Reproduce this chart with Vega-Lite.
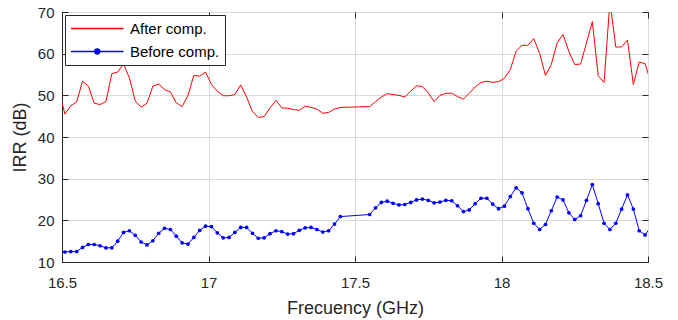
{
  "$schema": "https://vega.github.io/schema/vega-lite/v6.json",
  "width": 586,
  "height": 250,
  "autosize": {"type": "none"},
  "padding": {"left": 62, "top": 12, "right": 30, "bottom": 58},
  "background": "white",
  "config": {
    "font": "Liberation Sans",
    "view": {"stroke": "#262626", "strokeWidth": 1},
    "axis": {
      "domainColor": "#262626",
      "tickColor": "#262626",
      "labelColor": "#262626",
      "titleColor": "#262626",
      "gridColor": "#dadada",
      "gridWidth": 1,
      "labelFontSize": 15,
      "titleFontSize": 18,
      "titleFontWeight": "normal",
      "tickSize": -6,
      "labelPadding": 14,
      "labelFlush": false
    }
  },
  "data": {
    "values": [
      {"f": 16.49, "irr": 51.0, "s": "After comp."},
      {"f": 16.51, "irr": 45.5, "s": "After comp."},
      {"f": 16.53, "irr": 47.5, "s": "After comp."},
      {"f": 16.55, "irr": 48.4, "s": "After comp."},
      {"f": 16.57, "irr": 53.4, "s": "After comp."},
      {"f": 16.59, "irr": 52.2, "s": "After comp."},
      {"f": 16.61, "irr": 48.1, "s": "After comp."},
      {"f": 16.63, "irr": 47.8, "s": "After comp."},
      {"f": 16.65, "irr": 48.5, "s": "After comp."},
      {"f": 16.67, "irr": 55.2, "s": "After comp."},
      {"f": 16.69, "irr": 55.6, "s": "After comp."},
      {"f": 16.71, "irr": 57.5, "s": "After comp."},
      {"f": 16.73, "irr": 54.2, "s": "After comp."},
      {"f": 16.75, "irr": 48.6, "s": "After comp."},
      {"f": 16.77, "irr": 47.2, "s": "After comp."},
      {"f": 16.79, "irr": 48.1, "s": "After comp."},
      {"f": 16.81, "irr": 52.2, "s": "After comp."},
      {"f": 16.83, "irr": 52.7, "s": "After comp."},
      {"f": 16.85, "irr": 51.4, "s": "After comp."},
      {"f": 16.87, "irr": 50.8, "s": "After comp."},
      {"f": 16.89, "irr": 48.2, "s": "After comp."},
      {"f": 16.91, "irr": 47.3, "s": "After comp."},
      {"f": 16.93, "irr": 50.0, "s": "After comp."},
      {"f": 16.95, "irr": 54.8, "s": "After comp."},
      {"f": 16.97, "irr": 54.6, "s": "After comp."},
      {"f": 16.99, "irr": 55.6, "s": "After comp."},
      {"f": 17.01, "irr": 52.6, "s": "After comp."},
      {"f": 17.03, "irr": 51.0, "s": "After comp."},
      {"f": 17.05, "irr": 49.9, "s": "After comp."},
      {"f": 17.07, "irr": 49.9, "s": "After comp."},
      {"f": 17.09, "irr": 50.2, "s": "After comp."},
      {"f": 17.11, "irr": 52.5, "s": "After comp."},
      {"f": 17.13, "irr": 49.6, "s": "After comp."},
      {"f": 17.15, "irr": 46.1, "s": "After comp."},
      {"f": 17.17, "irr": 44.7, "s": "After comp."},
      {"f": 17.19, "irr": 44.9, "s": "After comp."},
      {"f": 17.21, "irr": 47.0, "s": "After comp."},
      {"f": 17.23, "irr": 48.8, "s": "After comp."},
      {"f": 17.25, "irr": 47.0, "s": "After comp."},
      {"f": 17.27, "irr": 46.9, "s": "After comp."},
      {"f": 17.29, "irr": 46.6, "s": "After comp."},
      {"f": 17.31, "irr": 46.4, "s": "After comp."},
      {"f": 17.33, "irr": 47.4, "s": "After comp."},
      {"f": 17.35, "irr": 47.1, "s": "After comp."},
      {"f": 17.37, "irr": 46.7, "s": "After comp."},
      {"f": 17.39, "irr": 45.7, "s": "After comp."},
      {"f": 17.41, "irr": 45.9, "s": "After comp."},
      {"f": 17.43, "irr": 46.7, "s": "After comp."},
      {"f": 17.45, "irr": 47.1, "s": "After comp."},
      {"f": 17.55, "irr": 47.3, "s": "After comp."},
      {"f": 17.57, "irr": 48.5, "s": "After comp."},
      {"f": 17.59, "irr": 49.6, "s": "After comp."},
      {"f": 17.61, "irr": 50.4, "s": "After comp."},
      {"f": 17.63, "irr": 50.2, "s": "After comp."},
      {"f": 17.65, "irr": 50.0, "s": "After comp."},
      {"f": 17.67, "irr": 49.6, "s": "After comp."},
      {"f": 17.69, "irr": 51.0, "s": "After comp."},
      {"f": 17.71, "irr": 52.3, "s": "After comp."},
      {"f": 17.73, "irr": 52.1, "s": "After comp."},
      {"f": 17.75, "irr": 50.6, "s": "After comp."},
      {"f": 17.77, "irr": 48.5, "s": "After comp."},
      {"f": 17.79, "irr": 50.0, "s": "After comp."},
      {"f": 17.81, "irr": 50.5, "s": "After comp."},
      {"f": 17.83, "irr": 50.5, "s": "After comp."},
      {"f": 17.85, "irr": 49.7, "s": "After comp."},
      {"f": 17.87, "irr": 49.1, "s": "After comp."},
      {"f": 17.89, "irr": 50.5, "s": "After comp."},
      {"f": 17.91, "irr": 52.0, "s": "After comp."},
      {"f": 17.93, "irr": 53.1, "s": "After comp."},
      {"f": 17.95, "irr": 53.4, "s": "After comp."},
      {"f": 17.97, "irr": 53.1, "s": "After comp."},
      {"f": 17.99, "irr": 53.3, "s": "After comp."},
      {"f": 18.01, "irr": 54.1, "s": "After comp."},
      {"f": 18.03, "irr": 56.2, "s": "After comp."},
      {"f": 18.05, "irr": 60.6, "s": "After comp."},
      {"f": 18.07, "irr": 62.0, "s": "After comp."},
      {"f": 18.09, "irr": 62.0, "s": "After comp."},
      {"f": 18.11, "irr": 63.6, "s": "After comp."},
      {"f": 18.13, "irr": 60.1, "s": "After comp."},
      {"f": 18.15, "irr": 54.8, "s": "After comp."},
      {"f": 18.17, "irr": 57.4, "s": "After comp."},
      {"f": 18.19, "irr": 62.6, "s": "After comp."},
      {"f": 18.21, "irr": 64.6, "s": "After comp."},
      {"f": 18.23, "irr": 60.5, "s": "After comp."},
      {"f": 18.25, "irr": 57.4, "s": "After comp."},
      {"f": 18.27, "irr": 57.5, "s": "After comp."},
      {"f": 18.29, "irr": 62.6, "s": "After comp."},
      {"f": 18.31, "irr": 67.7, "s": "After comp."},
      {"f": 18.33, "irr": 54.7, "s": "After comp."},
      {"f": 18.35, "irr": 53.1, "s": "After comp."},
      {"f": 18.37, "irr": 72.5, "s": "After comp."},
      {"f": 18.39, "irr": 61.6, "s": "After comp."},
      {"f": 18.41, "irr": 61.6, "s": "After comp."},
      {"f": 18.43, "irr": 63.3, "s": "After comp."},
      {"f": 18.45, "irr": 52.6, "s": "After comp."},
      {"f": 18.47, "irr": 58.0, "s": "After comp."},
      {"f": 18.49, "irr": 57.6, "s": "After comp."},
      {"f": 18.51, "irr": 53.0, "s": "After comp."},
      {"f": 16.49, "irr": 12.4, "s": "Before comp."},
      {"f": 16.51, "irr": 12.4, "s": "Before comp."},
      {"f": 16.53, "irr": 12.5, "s": "Before comp."},
      {"f": 16.55, "irr": 12.5, "s": "Before comp."},
      {"f": 16.57, "irr": 13.5, "s": "Before comp."},
      {"f": 16.59, "irr": 14.2, "s": "Before comp."},
      {"f": 16.61, "irr": 14.2, "s": "Before comp."},
      {"f": 16.63, "irr": 13.9, "s": "Before comp."},
      {"f": 16.65, "irr": 13.4, "s": "Before comp."},
      {"f": 16.67, "irr": 13.4, "s": "Before comp."},
      {"f": 16.69, "irr": 15.0, "s": "Before comp."},
      {"f": 16.71, "irr": 17.1, "s": "Before comp."},
      {"f": 16.73, "irr": 17.5, "s": "Before comp."},
      {"f": 16.75, "irr": 16.4, "s": "Before comp."},
      {"f": 16.77, "irr": 14.8, "s": "Before comp."},
      {"f": 16.79, "irr": 14.1, "s": "Before comp."},
      {"f": 16.81, "irr": 15.1, "s": "Before comp."},
      {"f": 16.83, "irr": 16.9, "s": "Before comp."},
      {"f": 16.85, "irr": 18.1, "s": "Before comp."},
      {"f": 16.87, "irr": 17.8, "s": "Before comp."},
      {"f": 16.89, "irr": 16.2, "s": "Before comp."},
      {"f": 16.91, "irr": 14.6, "s": "Before comp."},
      {"f": 16.93, "irr": 14.3, "s": "Before comp."},
      {"f": 16.95, "irr": 15.9, "s": "Before comp."},
      {"f": 16.97, "irr": 17.6, "s": "Before comp."},
      {"f": 16.99, "irr": 18.6, "s": "Before comp."},
      {"f": 17.01, "irr": 18.5, "s": "Before comp."},
      {"f": 17.03, "irr": 17.0, "s": "Before comp."},
      {"f": 17.05, "irr": 15.8, "s": "Before comp."},
      {"f": 17.07, "irr": 15.9, "s": "Before comp."},
      {"f": 17.09, "irr": 17.1, "s": "Before comp."},
      {"f": 17.11, "irr": 18.3, "s": "Before comp."},
      {"f": 17.13, "irr": 18.3, "s": "Before comp."},
      {"f": 17.15, "irr": 16.9, "s": "Before comp."},
      {"f": 17.17, "irr": 15.7, "s": "Before comp."},
      {"f": 17.19, "irr": 15.8, "s": "Before comp."},
      {"f": 17.21, "irr": 16.8, "s": "Before comp."},
      {"f": 17.23, "irr": 17.5, "s": "Before comp."},
      {"f": 17.25, "irr": 17.3, "s": "Before comp."},
      {"f": 17.27, "irr": 16.7, "s": "Before comp."},
      {"f": 17.29, "irr": 16.8, "s": "Before comp."},
      {"f": 17.31, "irr": 17.6, "s": "Before comp."},
      {"f": 17.33, "irr": 18.2, "s": "Before comp."},
      {"f": 17.35, "irr": 18.3, "s": "Before comp."},
      {"f": 17.37, "irr": 17.8, "s": "Before comp."},
      {"f": 17.39, "irr": 17.2, "s": "Before comp."},
      {"f": 17.41, "irr": 17.5, "s": "Before comp."},
      {"f": 17.43, "irr": 19.1, "s": "Before comp."},
      {"f": 17.45, "irr": 20.9, "s": "Before comp."},
      {"f": 17.55, "irr": 21.4, "s": "Before comp."},
      {"f": 17.57, "irr": 23.0, "s": "Before comp."},
      {"f": 17.59, "irr": 24.3, "s": "Before comp."},
      {"f": 17.61, "irr": 24.6, "s": "Before comp."},
      {"f": 17.63, "irr": 24.1, "s": "Before comp."},
      {"f": 17.65, "irr": 23.7, "s": "Before comp."},
      {"f": 17.67, "irr": 23.8, "s": "Before comp."},
      {"f": 17.69, "irr": 24.3, "s": "Before comp."},
      {"f": 17.71, "irr": 24.9, "s": "Before comp."},
      {"f": 17.73, "irr": 25.1, "s": "Before comp."},
      {"f": 17.75, "irr": 24.8, "s": "Before comp."},
      {"f": 17.77, "irr": 24.2, "s": "Before comp."},
      {"f": 17.79, "irr": 24.4, "s": "Before comp."},
      {"f": 17.81, "irr": 24.8, "s": "Before comp."},
      {"f": 17.83, "irr": 24.7, "s": "Before comp."},
      {"f": 17.85, "irr": 23.5, "s": "Before comp."},
      {"f": 17.87, "irr": 22.1, "s": "Before comp."},
      {"f": 17.89, "irr": 22.5, "s": "Before comp."},
      {"f": 17.91, "irr": 24.0, "s": "Before comp."},
      {"f": 17.93, "irr": 25.3, "s": "Before comp."},
      {"f": 17.95, "irr": 25.3, "s": "Before comp."},
      {"f": 17.97, "irr": 23.9, "s": "Before comp."},
      {"f": 17.99, "irr": 22.8, "s": "Before comp."},
      {"f": 18.01, "irr": 23.4, "s": "Before comp."},
      {"f": 18.03, "irr": 25.7, "s": "Before comp."},
      {"f": 18.05, "irr": 27.8, "s": "Before comp."},
      {"f": 18.07, "irr": 26.6, "s": "Before comp."},
      {"f": 18.09, "irr": 22.8, "s": "Before comp."},
      {"f": 18.11, "irr": 19.3, "s": "Before comp."},
      {"f": 18.13, "irr": 17.8, "s": "Before comp."},
      {"f": 18.15, "irr": 19.0, "s": "Before comp."},
      {"f": 18.17, "irr": 22.3, "s": "Before comp."},
      {"f": 18.19, "irr": 25.6, "s": "Before comp."},
      {"f": 18.21, "irr": 24.9, "s": "Before comp."},
      {"f": 18.23, "irr": 21.8, "s": "Before comp."},
      {"f": 18.25, "irr": 20.2, "s": "Before comp."},
      {"f": 18.27, "irr": 21.1, "s": "Before comp."},
      {"f": 18.29, "irr": 24.8, "s": "Before comp."},
      {"f": 18.31, "irr": 28.6, "s": "Before comp."},
      {"f": 18.33, "irr": 24.0, "s": "Before comp."},
      {"f": 18.35, "irr": 19.3, "s": "Before comp."},
      {"f": 18.37, "irr": 17.8, "s": "Before comp."},
      {"f": 18.39, "irr": 19.3, "s": "Before comp."},
      {"f": 18.41, "irr": 22.7, "s": "Before comp."},
      {"f": 18.43, "irr": 26.1, "s": "Before comp."},
      {"f": 18.45, "irr": 22.7, "s": "Before comp."},
      {"f": 18.47, "irr": 17.5, "s": "Before comp."},
      {"f": 18.49, "irr": 16.5, "s": "Before comp."},
      {"f": 18.51, "irr": 18.5, "s": "Before comp."}
    ]
  },
  "layer": [
    {
      "mark": {"type": "line", "strokeWidth": 1, "clip": true},
      "encoding": {
        "x": {
          "field": "f",
          "type": "quantitative",
          "scale": {"domain": [16.5, 18.5], "nice": false, "zero": false},
          "axis": {
            "values": [16.5, 17, 17.5, 18, 18.5],
            "format": "~g",
            "title": "Frecuency (GHz)",
            "labelPadding": 19,
            "titlePadding": 9
          }
        },
        "y": {
          "field": "irr",
          "type": "quantitative",
          "scale": {"domain": [10, 70], "nice": false, "zero": false},
          "axis": {
            "values": [10, 20, 30, 40, 50, 60, 70],
            "format": "d",
            "title": "IRR (dB)",
            "titlePadding": 8
          }
        },
        "color": {
          "field": "s",
          "type": "nominal",
          "scale": {"domain": ["After comp.", "Before comp."], "range": ["#ff0000", "#0000ff"]},
          "legend": {
            "title": null,
            "orient": "top-left",
            "offset": 3,
            "padding": 5,
            "rowPadding": 6,
            "labelOffset": 43,
            "labelFontSize": 15,
            "labelColor": "#000000",
            "symbolType": "stroke",
            "symbolSize": 225,
            "symbolStrokeWidth": 1.5,
            "fillColor": "#ffffff",
            "strokeColor": "#262626",
            "encode": {
              "symbols": {
                "update": {
                  "shape": {"signal": "datum.value === 'Before comp.' ? 'M-1,0H6M2.18,0a0.32,0.32 0 1,0 0.64,0a0.32,0.32 0 1,0 -0.64,0' : 'M-1,0H6'"},
                  "fill": {"signal": "datum.value === 'Before comp.' ? '#0000ff' : 'transparent'"}
                }
              }
            }
          }
        }
      }
    },
    {
      "transform": [{"filter": "datum.s === 'Before comp.'"}],
      "mark": {"type": "point", "filled": true, "size": 14, "color": "#0000ff", "opacity": 1, "clip": true},
      "encoding": {
        "x": {
          "field": "f",
          "type": "quantitative",
          "axis": {"orient": "top", "values": [16.5, 17, 17.5, 18, 18.5], "labels": false, "grid": false, "domain": false, "title": null}
        },
        "y": {
          "field": "irr",
          "type": "quantitative",
          "axis": {"orient": "right", "values": [10, 20, 30, 40, 50, 60, 70], "labels": false, "grid": false, "domain": false, "title": null}
        }
      }
    }
  ],
  "resolve": {"axis": {"x": "independent", "y": "independent"}}
}
